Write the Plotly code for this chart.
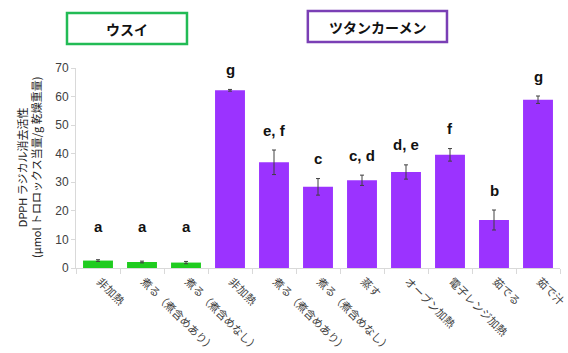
import plotly.graph_objects as go

# ---- data ----
categories = ["非加熱", "煮る（煮含めあり）", "煮る（煮含めなし）",
              "非加熱", "煮る（煮含めあり）", "煮る（煮含めなし）", "蒸す",
              "オーブン加熱", "電子レンジ加熱", "茹でる", "茹で汁"]
values = [2.6, 2.1, 1.9, 62.2, 37.0, 28.4, 30.7, 33.6, 39.6, 16.8, 58.9]
errors = [0.3, 0.3, 0.4, 0.3, 4.3, 2.9, 1.8, 2.5, 2.2, 3.5, 1.3]
letters = ["a", "a", "a", "g", "e, f", "c", "c, d", "d, e", "f", "b", "g"]
groups = ["ウスイ", "ウスイ", "ウスイ",
          "ツタンカーメン", "ツタンカーメン", "ツタンカーメン", "ツタンカーメン",
          "ツタンカーメン", "ツタンカーメン", "ツタンカーメン", "ツタンカーメン"]
group_names = ["ウスイ", "ツタンカーメン"]
y_ticks = [0, 10, 20, 30, 40, 50, 60, 70]
y_title = "DPPH ラジカル消去活性<br>(μmol トロロックス当量/g 乾燥重量)"

group_colors = {"ウスイ": "#1fcc1f", "ツタンカーメン": "#9b33ff"}
box_colors = {"ウスイ": "#22bb55", "ツタンカーメン": "#7a3fb5"}

FONT = "Liberation Sans, Noto Sans CJK JP, sans-serif"
JFONT = "Noto Sans CJK JP, Liberation Sans, sans-serif"

x = list(range(len(categories)))

fig = go.Figure()
fig.add_trace(go.Bar(
    x=x, y=values,
    marker=dict(color=[group_colors[g] for g in groups], line=dict(width=0)),
    error_y=dict(type="data", array=errors, visible=True,
                 color="#404040", thickness=1, width=2),
    showlegend=False,
))

LABEL_FLOOR = 7.4
for i, (v, e, t) in enumerate(zip(values, errors, letters)):
    fig.add_annotation(x=i, y=max(v + e, LABEL_FLOOR), text=f"<b>{t}</b>",
                       showarrow=False, yshift=20, yanchor="middle",
                       font=dict(family=FONT, size=15, color="#111111"))

# group title boxes
boxes = {
    "ウスイ": (-0.0186, 0.2293, 1.12, 1.275),
    "ツタンカーメン": (0.479, 0.7665, 1.13, 1.285),
}
for name in group_names:
    x0, x1, y0, y1 = boxes[name]
    fig.add_shape(type="rect", xref="paper", yref="paper",
                  x0=x0, x1=x1, y0=y0, y1=y1,
                  line=dict(color=box_colors[name], width=2.5),
                  fillcolor="white", layer="above")
    fig.add_annotation(xref="paper", yref="paper", x=(x0 + x1) / 2, y=(y0 + y1) / 2,
                       text=f"<b>{name}</b>", showarrow=False,
                       xanchor="center", yanchor="middle",
                       font=dict(family=JFONT, size=14, color="#111111"))

# y axis title
fig.add_annotation(xref="paper", yref="paper", x=(29 - 76) / 484, y=0.5,
                   text=y_title, textangle=-90, showarrow=False,
                   xanchor="center", yanchor="middle",
                   font=dict(family=JFONT, size=11, color="#222222"))

fig.update_layout(
    width=568, height=353,
    margin=dict(l=76, r=8, t=68, b=85, autoexpand=False),
    paper_bgcolor="white", plot_bgcolor="white",
    bargap=0.32,
    font=dict(family=FONT, color="#404040"),
    xaxis=dict(
        automargin=False,
        range=[-0.5, len(categories) - 0.5],
        tickmode="array", tickvals=x, ticktext=categories,
        tickangle=45, ticks="", showgrid=False, zeroline=False,
        ticklabelshift=2, ticklabelstandoff=2, ticklabeloverflow="allow",
        showline=True, linecolor="#d9d9d9", linewidth=1,
        tickfont=dict(family=JFONT, size=11, color="#404040"),
        minor=dict(tickmode="array",
                   tickvals=[i - 0.5 for i in range(len(categories) + 1)],
                   ticks="outside", ticklen=5, tickcolor="#d9d9d9", showgrid=False),
    ),
    yaxis=dict(
        automargin=False,
        range=[0, 70], tickmode="array", tickvals=y_ticks,
        ticks="outside", ticklen=4, tickcolor="#d9d9d9",
        showgrid=False, zeroline=False,
        showline=True, linecolor="#d9d9d9", linewidth=1,
        tickfont=dict(family=FONT, size=12, color="#404040"),
    ),
)

fig.write_html("out.html")
